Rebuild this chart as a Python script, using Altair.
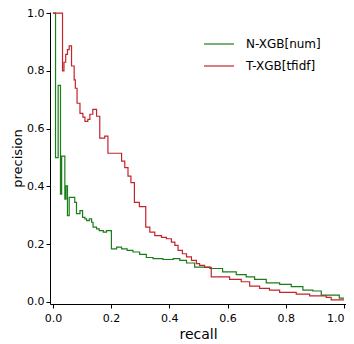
import altair as alt
import pandas as pd

series_names = ["N-XGB[num]", "T-XGB[tfidf]"]
colors = ["#1a7d1a", "#c1252b"]

# T-XGB[tfidf] precision-recall steps (recall, precision)
red_recall = [0.0, 0.033, 0.038, 0.044, 0.050, 0.056, 0.064, 0.073, 0.077, 0.083,
              0.093, 0.103, 0.110, 0.120, 0.127, 0.137, 0.150, 0.161, 0.178, 0.189,
              0.236, 0.247, 0.258, 0.268, 0.280, 0.297, 0.319, 0.333, 0.350, 0.373,
              0.390, 0.407, 0.419, 0.430, 0.445, 0.459, 0.476, 0.493, 0.504, 0.521,
              0.544, 0.607, 0.647, 0.676, 0.710, 0.744, 0.779, 0.836, 0.882, 0.939,
              0.956, 1.0]
red_precision = [1.0, 0.80, 0.83, 0.857, 0.874, 0.887, 0.817, 0.769, 0.74, 0.688,
                 0.653, 0.64, 0.625, 0.632, 0.65, 0.667, 0.643, 0.567, 0.574, 0.515,
                 0.488, 0.465, 0.436, 0.413, 0.345, 0.33, 0.259, 0.242, 0.230, 0.224,
                 0.219, 0.207, 0.196, 0.179, 0.167, 0.156, 0.144, 0.133, 0.127, 0.12,
                 0.087, 0.078, 0.07, 0.055, 0.047, 0.041, 0.033, 0.027, 0.021, 0.016,
                 0.007, 0.007]

# N-XGB[num] precision-recall steps (recall, precision)
green_recall = [0.0, 0.009, 0.018, 0.026, 0.030, 0.041, 0.045, 0.050, 0.056, 0.075,
                0.081, 0.093, 0.102, 0.110, 0.116, 0.125, 0.133, 0.138, 0.150, 0.159,
                0.173, 0.184, 0.201, 0.219, 0.236, 0.255, 0.275, 0.298, 0.321, 0.344,
                0.378, 0.413, 0.436, 0.459, 0.487, 0.539, 0.583, 0.630, 0.664, 0.693,
                0.733, 0.779, 0.819, 0.859, 0.893, 0.922, 0.984, 1.0]
green_precision = [1.0, 0.5, 0.75, 0.373, 0.505, 0.356, 0.402, 0.299, 0.362, 0.345,
                   0.306, 0.316, 0.293, 0.288, 0.282, 0.288, 0.276, 0.259, 0.253, 0.247,
                   0.242, 0.247, 0.184, 0.19, 0.184, 0.179, 0.173, 0.165, 0.154, 0.150,
                   0.147, 0.150, 0.144, 0.135, 0.121, 0.116, 0.104, 0.095, 0.087, 0.078,
                   0.066, 0.061, 0.053, 0.041, 0.038, 0.024, 0.013, 0.013]

rows = []
for r, p in zip(green_recall, green_precision):
    rows.append({"model": series_names[0], "recall": r, "precision": p})
for r, p in zip(red_recall, red_precision):
    rows.append({"model": series_names[1], "recall": r, "precision": p})
df = pd.DataFrame(rows)

font = "DejaVu Sans"

chart = alt.Chart(df).mark_line(interpolate="step-after", strokeWidth=1.2).encode(
    x=alt.X("recall:Q",
            scale=alt.Scale(domain=[-0.01, 1.007], nice=False, zero=False),
            axis=alt.Axis(title="recall", values=[0, 0.2, 0.4, 0.6, 0.8, 1.0], format=".1f",
                          grid=False, domainColor="black", tickColor="black",
                          labelColor="black", titleColor="black", labelFont=font,
                          titleFont=font, labelFontSize=11, titleFontSize=14,
                          titleFontWeight="normal", tickSize=4, labelPadding=4,
                          titlePadding=4,
                          labelAlign=alt.ExprRef(expr="datum.value == 1 ? 'right' : 'center'"))),
    y=alt.Y("precision:Q",
            scale=alt.Scale(domain=[-0.007, 1.004], nice=False, zero=False),
            axis=alt.Axis(title="precision", values=[0, 0.2, 0.4, 0.6, 0.8, 1.0], format=".1f",
                          grid=False, domainColor="black", tickColor="black",
                          labelColor="black", titleColor="black", labelFont=font,
                          titleFont=font, labelFontSize=11, titleFontSize=13,
                          titleFontWeight="normal", tickSize=4, labelPadding=2,
                          titlePadding=2)),
    color=alt.Color("model:N",
                    scale=alt.Scale(domain=series_names, range=colors),
                    legend=alt.Legend(title=None, orient="none", legendX=153, legendY=16,
                                      symbolType="stroke", symbolSize=900,
                                      symbolStrokeWidth=1.2, labelFont=font,
                                      labelFontSize=12, labelColor="black",
                                      labelOffset=11, rowPadding=-13)),
).properties(
    width=296, height=292,
    autosize=alt.AutoSizeParams(type="none"),
    padding={"left": 42, "top": 4, "right": 0, "bottom": 40},
).configure_view(stroke=None)

chart.save("out.html", embed_options={"renderer": "svg", "actions": False})
